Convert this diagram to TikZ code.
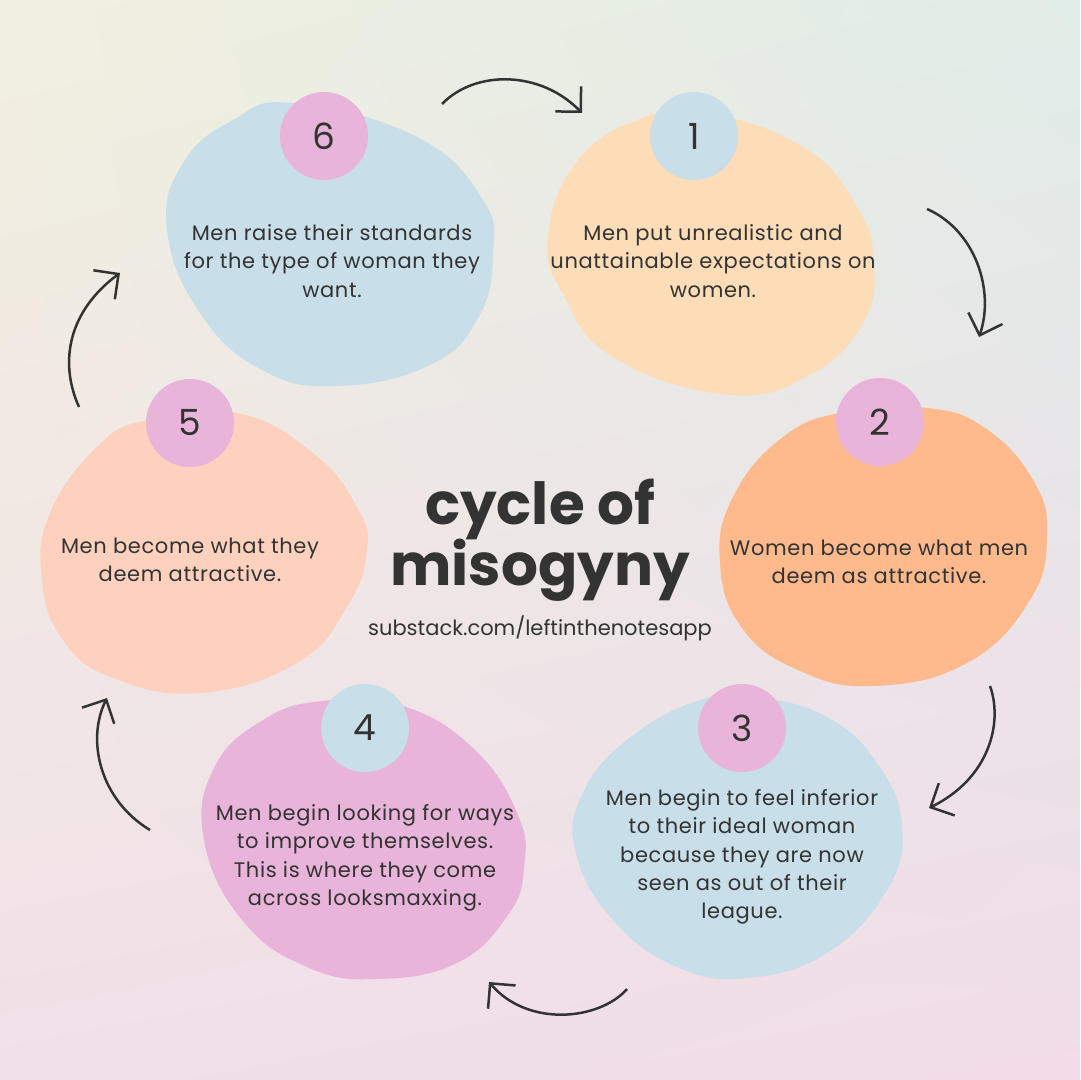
\documentclass[tikz,border=0pt]{standalone}
\usepackage{fontspec}
\setmainfont{Poppins}
\usetikzlibrary{arrows.meta,shadings}
\definecolor{bgUL}{HTML}{F1F0E0}
\definecolor{bgUR}{HTML}{E0ECE7}
\definecolor{bgLL}{HTML}{F1E0E8}
\definecolor{bgLR}{HTML}{F2DDE9}
\definecolor{blobblue}{HTML}{C8DEE8}
\definecolor{blobpeach}{HTML}{FDDCB8}
\definecolor{bloborange}{HTML}{FEBA8C}
\definecolor{blobsalmon}{HTML}{FED0BE}
\definecolor{blobpink}{HTML}{E9B4D9}
\definecolor{ink}{HTML}{333333}
\tikzset{
  numcirc/.style={circle, draw=none, minimum size=44pt, inner sep=0pt,
    text=ink, font=\fontsize{18}{18}\selectfont},
  bodytext/.style={align=center, text=ink, inner sep=0pt,
    font=\fontsize{10.5}{14.2}\selectfont\addfontfeature{LetterSpace=3}},
  titletext/.style={anchor=base, text=ink, inner sep=0pt,
    font=\fontsize{29}{29}\selectfont\bfseries},
  cyclearrow/.style={draw=ink, line width=1.25pt,
    -{Straight Barb[length=9pt,width=18pt,line width=1.25pt]}},
}
\begin{document}
\begin{tikzpicture}[x=0.5pt,y=-0.5pt]
\useasboundingbox (0,0) rectangle (1080,1080);
\shade[upper left=bgUL, upper right=bgUR, lower left=bgLL, lower right=bgLR]
  (0,0) rectangle (1080,1080);

% blob 6 (blue)
\fill[blobblue] plot[smooth cycle, tension=0.75] coordinates {
  (293,103) (417,137) (483,200) (493,255) (478,318) (430,365) (337,386)
  (262,370) (200,313) (167,230) (183,163) (233,120)};
% blob 1 (peach)
\fill[blobpeach] plot[smooth cycle, tension=0.75] coordinates {
  (703,113) (803,147) (857,207) (874,265) (863,323) (813,373) (730,395)
  (613,357) (562,292) (548,237) (573,167) (630,123)};
% blob 2 (orange)
\fill[bloborange] plot[smooth cycle, tension=0.75] coordinates {
  (927,408) (985,428) (1033,480) (1047,535) (1030,600) (967,663) (873,686)
  (798,670) (742,628) (720,563) (733,497) (783,437) (845,412)};
% blob 3 (blue)
\fill[blobblue] plot[smooth cycle, tension=0.75] coordinates {
  (760,698) (827,717) (877,763) (902,825) (887,890) (827,953) (747,978)
  (677,967) (613,920) (576,853) (582,795) (627,740) (700,700)};
% blob 4 (pink)
\fill[blobpink] plot[smooth cycle, tension=0.75] coordinates {
  (323,701) (400,705) (473,748) (518,815) (524,868) (508,915) (457,963)
  (377,979) (307,967) (242,920) (204,840) (214,768) (263,720)};
% blob 5 (salmon)
\fill[blobsalmon] plot[smooth cycle, tension=0.75] coordinates {
  (237,413) (313,453) (357,507) (367,550) (347,607) (297,663) (200,693)
  (113,678) (63,640) (42,580) (50,513) (97,447) (147,420)};

% number circles
\node[numcirc, fill=blobpink] (n6) at (324,136) {6};
\node[numcirc, fill=blobblue] (n1) at (694,136) {1};
\node[numcirc, fill=blobpink] (n2) at (880,422) {2};
\node[numcirc, fill=blobpink] (n3) at (742,728) {3};
\node[numcirc, fill=blobblue] (n4) at (365,728) {4};
\node[numcirc, fill=blobpink] (n5) at (190,423) {5};

% texts
\node[bodytext] (t6) at (332,261) {Men raise their standards\\for the type of woman they\\want.};
\node[bodytext] (t1) at (713,261) {Men put unrealistic and\\unattainable expectations on\\women.};
\node[bodytext] (t2) at (879,562) {Women become what men\\deem as attractive.};
\node[bodytext] (t3) at (742,857) {Men begin to feel inferior\\to their ideal woman\\because they are now\\seen as out of their\\league.};
\node[bodytext] (t4) at (365,858) {Men begin looking for ways\\to improve themselves.\\This is where they come\\across looksmaxxing.};
\node[bodytext] (t5) at (190,560) {Men become what they\\deem attractive.};

% title
\node[titletext] (title1) at (540,524) {cycle of};
\node[titletext] (title2) at (540,585) {misogyny};
\node[anchor=base, text=ink, inner sep=0pt, font=\fontsize{10.5}{12}\selectfont] (url) at (540,635) {substack.com/leftinthenotesapp};

% arrow end points
\coordinate (a1s) at (442,104); \coordinate (a1e) at (582,113);
\coordinate (a2s) at (927,209); \coordinate (a2e) at (979,337);
\coordinate (a3s) at (990,686); \coordinate (a3e) at (929,808);
\coordinate (a4s) at (627,989); \coordinate (a4e) at (489,982);
\coordinate (a5s) at (150,830); \coordinate (a5e) at (107,698);
\coordinate (a6s) at (79,407);  \coordinate (a6e) at (120,273);

\draw[cyclearrow] (a1s) .. controls (475,70) and (540,70) .. (a1e);
\draw[cyclearrow] (a2s) .. controls (975,230) and (995,290) .. (a2e);
\draw[cyclearrow] (a3s) .. controls (1003,722) and (990,778) .. (a3e);
\draw[cyclearrow] (a4s) .. controls (600,1020) and (528,1028) .. (a4e);
\draw[cyclearrow] (a5s) .. controls (100,800) and (86,740) .. (a5e);
\draw[cyclearrow] (a6s) .. controls (58,360) and (70,310) .. (a6e);
\end{tikzpicture}
\end{document}
